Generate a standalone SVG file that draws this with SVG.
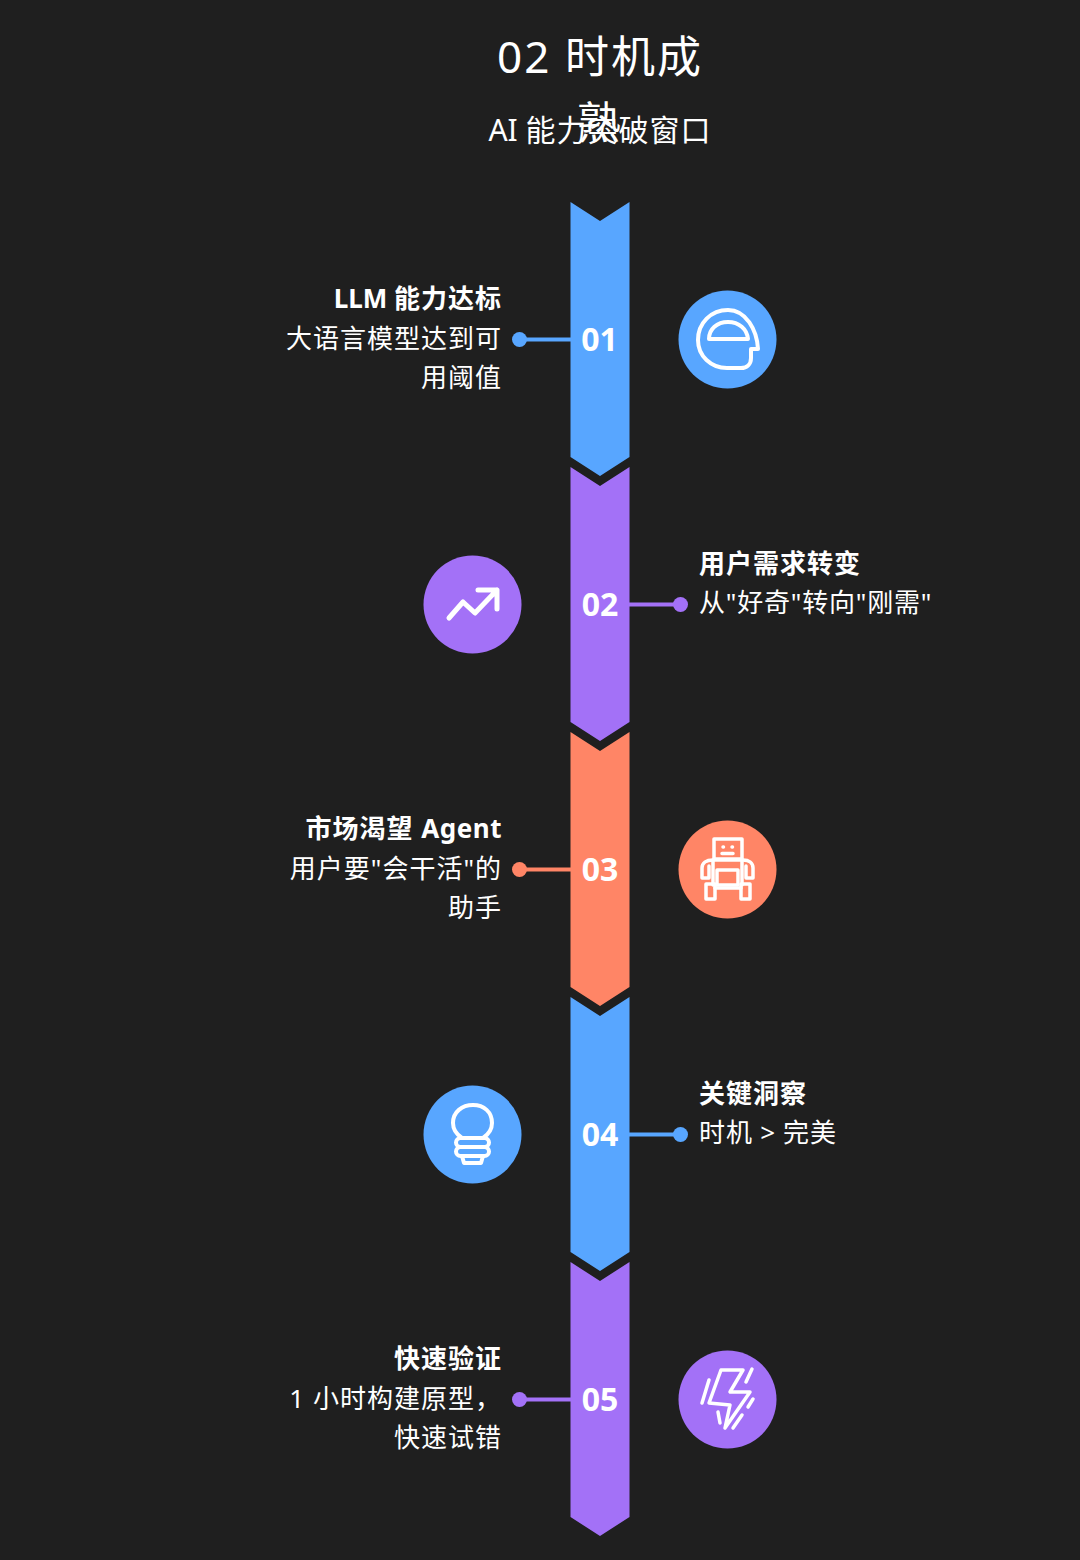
<svg xmlns="http://www.w3.org/2000/svg" width="1080" height="1560" viewBox="0 0 1080 1560">
<style>
text{font-family:"Noto Sans","Noto Sans CJK SC",sans-serif;fill:#fff}
.t{font-size:44px;text-anchor:middle;letter-spacing:2px}
.s{font-size:30px;text-anchor:middle;letter-spacing:1px}
.h{font-size:26px;font-weight:700;letter-spacing:1px}
.b{font-size:26px;letter-spacing:1px}
.n{font-size:32px;font-weight:700;text-anchor:middle}
.e{text-anchor:end}
.l0{letter-spacing:0}
.l5{letter-spacing:.5px}
.i{fill:none;stroke:#fff;stroke-width:4;stroke-linecap:round;stroke-linejoin:round}
.blue{fill:#58a6ff}.purple{fill:#a371f7}.orange{fill:#ff8566}
</style>
<defs>
<path id="seg" d="M-29.500,0L0,19L29.500,0V255L0,274L-29.500,255Z"/>
</defs>
<rect width="1080" height="1560" fill="#1f1f1f"/>
<g id="title">
<text class="t" x="600" y="73">02 时机成</text>
<text class="t" x="600" y="139">熟</text>
<text class="s" x="600" y="141"><tspan class="l0">AI </tspan>能力突破窗口</text>
</g>
<g id="connectors" stroke-width="4">
<path d="M519,339.500H571" stroke="#58a6ff"/>
<path d="M629,604.500H681" stroke="#a371f7"/>
<path d="M519,869.500H571" stroke="#ff8566"/>
<path d="M629,1134.500H681" stroke="#58a6ff"/>
<path d="M519,1399.500H571" stroke="#a371f7"/>
<circle cx="519.500" cy="339.500" r="7.500" class="blue"/>
<circle cx="680.500" cy="604.500" r="7.500" class="purple"/>
<circle cx="519.500" cy="869.500" r="7.500" class="orange"/>
<circle cx="680.500" cy="1134.500" r="7.500" class="blue"/>
<circle cx="519.500" cy="1399.500" r="7.500" class="purple"/>
</g>
<g id="node-01">
<use href="#seg" x="600" y="202" class="blue"/>
<text class="n" x="599.500" y="351">01</text>
<text class="h e" x="502" y="308"><tspan class="l0">LLM </tspan>能力达标</text>
<text class="b e" x="502" y="348">大语言模型达到可</text>
<text class="b e" x="502" y="387">用阈值</text>
<circle cx="727.500" cy="339.500" r="49" class="blue"/>
<path class="i" d="M728,310C711,310 698,323 698,340C698,356 711,368 727,368H741C747,368 751,364 751,358V349H758C757,330 746,310 728,310Z"/>
<path class="i" d="M709,339C709,329 717,322 728,322C739,322 747,329 748,339Z"/>
</g>
<g id="node-02">
<use href="#seg" x="600" y="467" class="purple"/>
<text class="n" x="600" y="616">02</text>
<text class="h" x="699" y="573">用户需求转变</text>
<text class="b" x="699" y="612" style="letter-spacing:.8px">从"好奇"转向"刚需"</text>
<circle cx="472.500" cy="604.500" r="49" class="purple"/>
<path class="i" style="stroke-width:5" d="M449,618L463,602L475,613L497,590M478,590H497V609"/>
</g>
<g id="node-03">
<use href="#seg" x="600" y="732" class="orange"/>
<text class="n" x="600" y="881">03</text>
<text class="h e" x="502" y="838">市场渴望 <tspan class="l5">Agent</tspan></text>
<text class="b e" x="502" y="878">用户要"会干活"的</text>
<text class="b e" x="502" y="917">助手</text>
<circle cx="727.500" cy="869.500" r="49" class="orange"/>
<g class="i" style="stroke-width:3.500">
<rect x="714" y="839" width="28" height="20"/>
<path d="M723,847H723.500M732,847H732.500M722,853.500H733"/>
<path d="M713,860H743C749,860 753,863 753,868V878H746V866M713,860C706,860 702,863 702,868V878H709V866"/>
<path d="M713,860V885M742,860V885"/>
<rect x="717" y="870" width="21" height="15"/>
<rect x="706" y="884" width="9" height="15"/>
<rect x="741" y="884" width="9" height="15"/>
<path d="M715,888H741"/>
</g>
</g>
<g id="node-04">
<use href="#seg" x="600" y="997" class="blue"/>
<text class="n" x="600" y="1146">04</text>
<text class="h" x="699" y="1103">关键洞察</text>
<text class="b" x="699" y="1142">时机<tspan class="l5"> &gt; </tspan>完美</text>
<circle cx="472.500" cy="1134.500" r="49" class="blue"/>
<g class="i">
<path d="M462,1138C456,1134 453,1128 453,1123C453,1112 462,1105 473,1105C484,1105 492,1112 492,1123C492,1128 489,1134 483,1138"/>
<rect x="456" y="1138" width="33" height="9" rx="4.500"/>
<rect x="456" y="1147" width="33" height="9" rx="4.500"/>
<path d="M462,1156L464,1163H481L483,1156"/>
</g>
</g>
<g id="node-05">
<use href="#seg" x="600" y="1262" class="purple"/>
<text class="n" x="600" y="1411">05</text>
<text class="h e" x="502" y="1368">快速验证</text>
<text class="b e" x="502" y="1408">1 小时构建原型，</text>
<text class="b e" x="502" y="1447">快速试错</text>
<circle cx="727.500" cy="1399.500" r="49" class="purple"/>
<path class="i" style="stroke-width:3.500" d="M721,1370H743L730,1392H750L725,1428L730,1405L709,1403ZM709,1380L702,1403M752,1369L746,1382M753,1399L748,1407M718,1412L720,1423M742,1415L733,1428"/>
</g>
</svg>
